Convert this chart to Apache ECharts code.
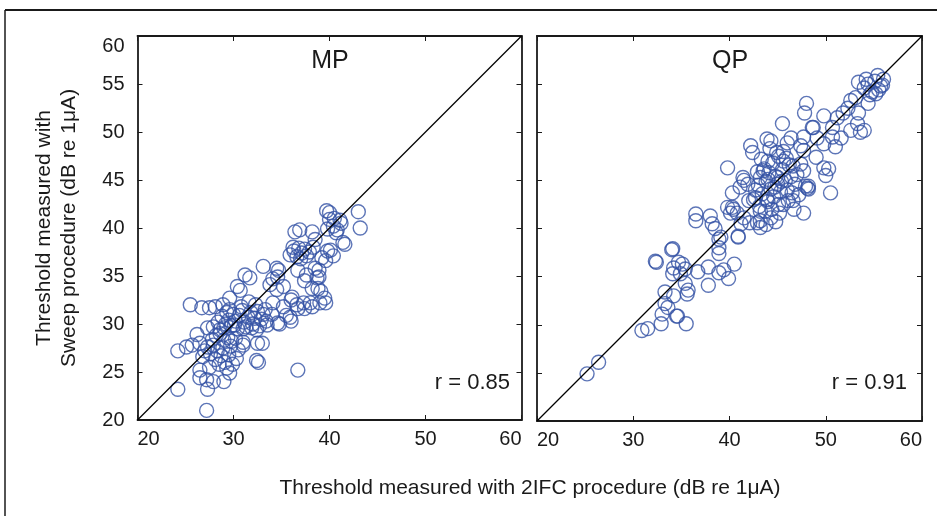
<!DOCTYPE html>
<html>
<head>
	<meta charset="utf-8">
	<title>Sweep vs 2IFC thresholds</title>
	<script type="text/javascript" src="https://cdn.jsdelivr.net/npm/echarts@6/dist/echarts.min.js"></script>
	<style>
		html, body { margin: 0; padding: 0; background: #fff; }
	</style>
</head>
<body>
	<div id="mychar" style="width: 937px;height:516px;"></div>

	<script type="text/javascript">
		// panel titles and correlation labels
		var panelNames = ['MP', 'QP'];
		var rLabels = ['r = 0.85', 'r = 0.91'];
		var xTicks = [20, 30, 40, 50, 60];
		var yTicks = [20, 25, 30, 35, 40, 45, 50, 55, 60];
		var identityLine = [[20, 20], [60, 60]];

		// [2IFC threshold, Sweep threshold]
		var mpPoints = [
			[43.0,41.7],[43.2,40.0],[39.7,41.8],[40.0,41.6],[41.1,40.8],[40.4,40.2],[40.8,39.8],[41.2,40.5],
			[40.0,40.9],[40.5,41.0],[39.8,39.9],[41.4,38.5],[40.1,37.7],[39.2,36.9],[39.8,37.6],[40.4,37.1],
			[41.6,38.3],[40.7,39.5],[36.4,39.6],[36.9,39.8],[38.2,39.6],[38.5,38.8],[38.3,38.0],
			[35.9,37.2],[36.3,37.6],[36.6,37.0],[36.8,37.9],[37.1,37.4],[37.4,37.8],[37.6,37.1],[36.2,38.0],
			[37.0,36.8],[37.9,37.5],[39.6,36.6],
			[36.7,35.6],[37.6,35.1],[38.5,35.8],[38.9,35.6],[38.9,34.9],[38.7,34.8],[37.4,34.5],[38.2,33.7],
			[38.8,33.7],[39.1,33.4],[39.5,32.7],[39.0,32.2],[38.0,32.2],[37.3,32.2],[36.6,32.0],[36.1,32.8],
			[39.6,32.2],[37.4,31.6],[38.2,31.8],[36.7,31.6],
			[35.9,30.7],[35.5,30.9],[34.6,30.1],[34.8,30.0],[35.2,31.8],[36.0,32.5],[36.0,30.3],
			[33.1,36.0],[34.5,35.8],[34.7,35.6],[34.6,34.9],[34.1,34.7],[33.8,34.1],[35.2,33.9],[34.5,33.6],
			[34.1,32.2],[33.3,31.5],[33.5,29.9],[33.0,28.0],[32.6,26.0],[36.7,25.2],[32.4,26.2],[32.5,28.0],
			[31.2,35.1],[31.7,34.8],[30.4,33.9],[30.7,33.5],[29.6,32.7],[28.9,32.0],[25.5,32.0],[26.7,31.7],
			[27.5,31.7],[28.1,31.8],
			[28.4,30.2],[28.8,30.8],[29.0,29.6],[29.3,31.2],[29.5,30.4],[29.8,29.8],[30.0,31.0],[30.2,30.3],
			[30.4,29.5],[30.6,30.9],[30.9,31.4],[31.1,30.2],[31.3,29.7],[31.5,30.7],[31.8,31.2],[32.0,30.0],
			[32.2,30.6],[32.5,31.3],[32.7,29.8],[32.9,30.5],[33.1,31.0],[29.2,30.0],[30.1,29.9],[31.0,29.5],
			[31.9,29.6],[32.4,29.4],[29.6,31.5],[30.8,31.8],[28.6,29.4],[31.6,32.3],[32.3,32.0],[33.4,30.3],
			[34.0,31.0],
			[27.9,29.7],[27.3,29.6],[26.2,28.9],[26.5,28.0],[25.7,27.8],[24.2,27.2],[25.1,27.6],
			[27.3,27.6],[27.6,26.9],[27.9,27.8],[28.1,26.3],[28.3,27.2],[28.5,25.8],[28.7,26.7],[28.9,27.5],
			[29.1,26.0],[29.3,25.4],[29.5,26.8],[29.7,27.7],[27.5,25.5],[27.8,28.4],[28.2,28.8],[28.6,29.0],
			[29.0,28.3],[29.4,28.6],[29.8,28.2],[30.2,28.5],[30.5,27.3],[31.0,27.8],[29.9,25.8],[30.3,26.4],
			[26.8,26.6],[27.0,27.2],[31.0,28.1],
			[26.5,25.2],[26.5,24.4],[27.2,24.2],[27.9,24.0],[29.0,24.0],[29.6,24.9],[24.2,23.2],[27.3,23.2],
			[27.2,21.0]
		];

		var qpPoints = [
			[25.2,24.9],[26.4,26.1],[30.9,29.4],[31.5,29.6],[32.9,30.1],[35.5,30.1],[33.0,31.1],[33.6,31.8],
			[34.5,30.9],[33.3,32.2],[34.2,33.0],[33.3,33.4],[35.6,33.2],[35.7,33.6],[35.4,34.3],[32.3,36.6],
			[32.4,36.5],[34.0,37.8],[34.2,35.9],[35.1,36.3],[34.9,35.3],[34.1,35.3],[34.7,36.5],[35.4,35.8],
			[36.7,35.5],[37.8,36.0],[38.9,35.4],[39.4,35.7],[40.5,36.3],[39.9,34.8],[37.8,34.1],[38.9,37.4],
			[38.9,38.9],[40.9,39.1],[34.6,30.9],
			[39.8,46.3],[45.5,50.9],[48.0,53.0],[47.8,52.0],[49.8,51.7],[48.6,50.5],[50.7,50.5],[51.2,51.5],
			[51.8,52.0],[52.6,53.3],[53.1,53.6],[53.4,55.2],[55.4,55.9],[55.7,54.8],
			[54.0,54.6],[54.4,55.0],[54.8,54.2],[55.1,55.3],[55.5,54.4],[55.9,54.9],[54.6,53.9],[55.2,54.0],
			[56.0,55.5],[54.2,55.5],
			[54.4,53.0],[53.4,52.0],[52.3,52.5],[53.3,50.9],[53.6,50.0],[54.0,50.2],[52.6,50.2],[51.6,49.4],
			[50.7,49.5],[51.0,48.5],[49.8,48.8],[49.1,49.4],[48.7,50.5],[47.7,49.5],[47.4,48.6],[49.0,47.4],
			[49.8,46.3],[50.3,46.2],[50.0,45.5],[50.5,43.7],[48.2,44.4],[48.2,44.1],[47.7,46.0],[47.4,46.7],
			[46.6,46.5],[45.6,47.0],[45.6,48.0],[46.4,49.4],[47.7,48.1],[44.3,49.1],[42.2,48.6],[42.4,47.9],
			[44.0,47.0],[45.0,45.3],[43.5,46.0],[46.0,48.9],[43.9,49.3],
			[43.0,44.5],[43.2,45.3],[43.4,43.6],[43.6,46.2],[43.8,44.9],[44.0,42.8],[44.1,45.8],[44.3,44.1],
			[44.5,46.8],[44.6,43.3],[44.8,45.4],[45.0,44.6],[45.1,47.5],[45.3,43.8],[45.5,46.1],[45.6,42.5],
			[45.8,45.0],[46.0,44.0],[46.2,46.6],[46.4,45.4],[43.1,42.3],[43.7,41.8],[44.4,42.0],[45.2,41.6],
			[46.1,42.9],[46.5,43.7],[44.9,47.9],[44.2,48.3],[43.3,47.2],[42.9,45.9],[42.7,44.0],[43.9,43.0],
			[45.4,44.9],[44.7,44.3],[44.0,45.1],[45.9,47.3],[46.8,44.6],[47.0,45.6],[47.2,43.5],[42.5,43.0],
			[41.5,45.0],[41.1,44.3],[41.9,44.6],[41.4,45.3],[40.3,43.7],[40.3,42.2],[40.8,41.6],[41.5,41.1],
			[40.4,42.0],[42.7,43.2],[43.2,41.8],[43.2,40.8],[44.3,41.1],[45.1,42.5],[46.6,42.9],[46.7,42.0],
			[47.7,41.6],[48.1,44.2],[47.9,44.4],
			[36.5,41.5],[36.5,40.8],[38.0,41.3],[38.2,40.5],[38.5,40.0],[39.1,39.1],[40.9,39.2],[40.1,41.6],
			[39.8,42.2],[38.9,38.0],[34.1,37.9],[42.0,42.9],[41.2,40.5],[42.1,40.6],[43.8,40.4],[44.8,40.7],
			[42.9,40.6],[43.2,40.1]
		];

		var mychar = echarts.init(document.getElementById("mychar"));
		var fontFam = 'Liberation Sans, Arial, sans-serif';
		var ink = '#1a1a1a';
		var grids = [
			{left: 137.5, top: 36, width: 384, height: 384},
			{left: 537, top: 36, width: 385, height: 385}
		];

		function xAx(i, pos) {
			var main = pos == 'bottom';
			return {
				gridIndex: i, type: 'value', position: pos,
				min: xTicks[0], max: xTicks[xTicks.length - 1], interval: 10,
				axisLine: {show: true, onZero: false, lineStyle: {color: ink, width: 1.8}},
				axisTick: {show: true, inside: true, length: 5, lineStyle: {color: ink, width: 1}},
				axisLabel: {show: main, margin: 9, color: ink, fontSize: 20, fontFamily: fontFam,
					alignMinLabel: 'left', alignMaxLabel: 'right'},
				splitLine: {show: false}
			};
		}
		function yAx(i, pos) {
			var main = pos == 'left' && i == 0;
			return {
				gridIndex: i, type: 'value', position: pos,
				min: yTicks[0], max: yTicks[yTicks.length - 1], interval: 5,
				axisLine: {show: true, onZero: false, lineStyle: {color: ink, width: 1.8}},
				axisTick: {show: true, inside: true, length: 5, lineStyle: {color: ink, width: 1}},
				axisLabel: {show: main, margin: 13, color: ink, fontSize: 20, fontFamily: fontFam,
					verticalAlignMaxLabel: 'top'},
				splitLine: {show: false}
			};
		}

		var pointStyle = {color: 'rgba(0,0,0,0)', borderColor: '#3452a5', borderWidth: 1.4};

		var option = {
			animation: false,
			backgroundColor: '#fff',
			grid: grids,
			xAxis: [xAx(0, 'bottom'), xAx(0, 'top'), xAx(1, 'bottom'), xAx(1, 'top')],
			yAxis: [yAx(0, 'left'), yAx(0, 'right'), yAx(1, 'left'), yAx(1, 'right')],
			graphic: [
				{type: 'line', shape: {x1: 5, y1: 10, x2: 937, y2: 10}, style: {stroke: ink, lineWidth: 2}},
				{type: 'line', shape: {x1: 5, y1: 10, x2: 5, y2: 516}, style: {stroke: ink, lineWidth: 1.5}},
				{type: 'text', x: 330, y: 61, style: {text: panelNames[0], font: '25px ' + fontFam, fill: ink, align: 'center', verticalAlign: 'middle'}},
				{type: 'text', x: 730, y: 61, style: {text: panelNames[1], font: '25px ' + fontFam, fill: ink, align: 'center', verticalAlign: 'middle'}},
				{type: 'text', x: 510, y: 383, style: {text: rLabels[0], font: '22px ' + fontFam, fill: ink, align: 'right', verticalAlign: 'middle'}},
				{type: 'text', x: 907, y: 383, style: {text: rLabels[1], font: '22px ' + fontFam, fill: ink, align: 'right', verticalAlign: 'middle'}},
				{type: 'text', x: 530, y: 488, style: {text: 'Threshold measured with 2IFC procedure (dB re 1μA)', font: '21px ' + fontFam, fill: ink, align: 'center', verticalAlign: 'middle'}},
				{type: 'text', x: 57, y: 228, rotation: Math.PI / 2,
					style: {text: 'Threshold measured with\nSweep procedure (dB re 1μA)', font: '21px ' + fontFam, lineHeight: 25, fill: ink, align: 'center', verticalAlign: 'middle'}}
			],
			series: [
				{type: 'line', xAxisIndex: 0, yAxisIndex: 0, data: identityLine, symbol: 'none', lineStyle: {color: '#000', width: 1.2}, silent: true},
				{type: 'line', xAxisIndex: 2, yAxisIndex: 2, data: identityLine, symbol: 'none', lineStyle: {color: '#000', width: 1.2}, silent: true},
				{name: panelNames[0], type: 'scatter', xAxisIndex: 0, yAxisIndex: 0, data: mpPoints, symbol: 'circle', symbolSize: 14, itemStyle: pointStyle},
				{name: panelNames[1], type: 'scatter', xAxisIndex: 2, yAxisIndex: 2, data: qpPoints, symbol: 'circle', symbolSize: 14, itemStyle: pointStyle}
			]
		};

		mychar.setOption(option);
	</script>
</body>
</html>
